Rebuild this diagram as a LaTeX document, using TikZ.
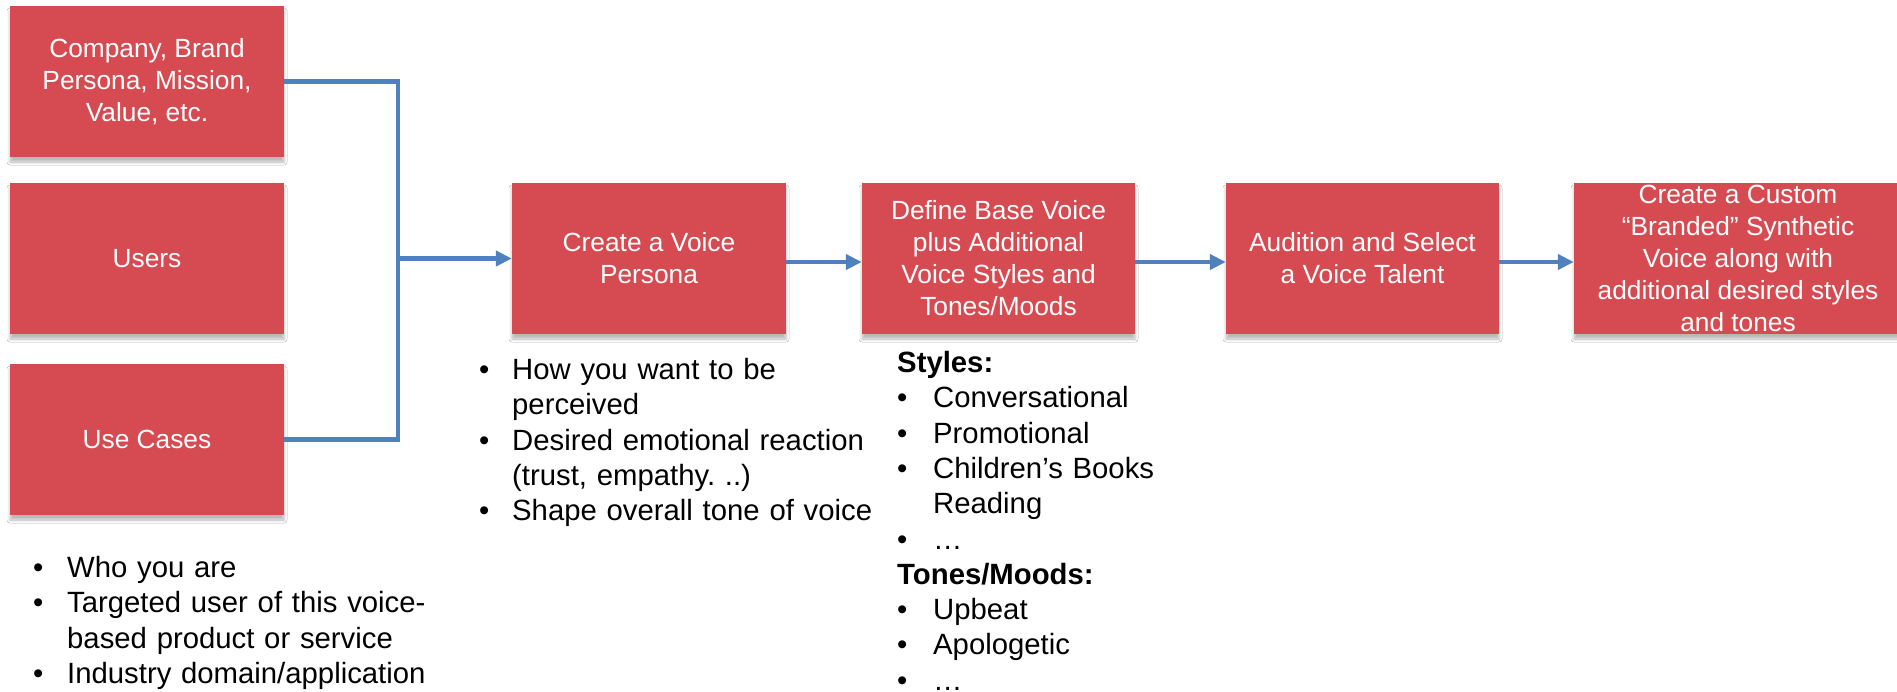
\documentclass[tikz,border=0pt]{standalone}
\usepackage{fontspec}
\setmainfont{Liberation Sans}
\usetikzlibrary{arrows.meta,shadows.blur}
\definecolor{boxred}{RGB}{214,75,81}
\definecolor{linkblue}{RGB}{79,129,189}
\newcommand\bitem[2][33pt]{\hangindent=#1\hangafter=1\noindent\makebox[#1][l]{\textbullet}#2\par}
\newcommand\bhead[1]{\noindent\textbf{#1}\par}
\frenchspacing
\begin{document}
\begin{tikzpicture}[x=1pt,y=-1pt,
  box/.style={rectangle, fill=boxred, text=white, align=center, inner sep=0pt,
    minimum width=274pt, minimum height=151pt,
    font=\fontsize{26.3}{32}\selectfont,
    blur shadow={shadow xshift=0pt,shadow yshift=-5pt,shadow blur radius=3pt,shadow opacity=28}},
  boxtext/.style={text=white, align=center, inner sep=0pt, font=\fontsize{26.3}{32}\selectfont},
  conn/.style={draw=linkblue, line width=4.5pt},
  arr/.style={conn, -{Triangle[length=16pt,width=15pt]}},
  notes/.style={anchor=base west, inner sep=0pt, text width=420pt, align=left,
    font=\fontsize{29.3}{35.3}\selectfont}]
\useasboundingbox (0,0) rectangle (1897,691);
\fill[white] (0,0) rectangle (1897,691);
\clip (0,0) rectangle (1897,691);

% boxes
\node[box] (b1) at (147,81.5) {Company, Brand\\Persona, Mission,\\Value, etc.};
\node[box] (b2) at (147,258.5) {Users};
\node[box] (b3) at (147,439.5) {Use Cases};
\node[box] (b4) at (649,258.5) {Create a Voice\\Persona};
\node[box, minimum width=273pt] (b5) at (998.5,258.5) {Define Base Voice\\plus Additional\\Voice Styles and\\Tones/Moods};
\node[box, minimum width=273pt] (b6) at (1362.5,258.5) {Audition and Select\\a Voice Talent};
\node[box, minimum width=328pt] (b7) at (1738,258.5) {};
\node[boxtext] (b7t) at (b7.center) {Create a Custom\\“Branded” Synthetic\\Voice along with\\additional desired styles\\and tones};

% connectors
\coordinate (j) at (398,258.5);
\draw[conn] (b1.east) -| (j) |- (b3.east);
\draw[arr] (j) -- (b4.west);
\draw[arr] ([yshift=-3.5pt]b4.east) -- ([yshift=-3.5pt]b5.west);
\draw[arr] ([yshift=-3.5pt]b5.east) -- ([yshift=-3.5pt]b6.west);
\draw[arr] ([yshift=-3.5pt]b6.east) -- ([yshift=-3.5pt]b7.west);

% notes
\node[notes] (n1) at (33,577.5) {\bitem[34pt]{Who you are}\bitem[34pt]{Targeted user of this voice-\newline based product or service}\bitem[34pt]{Industry domain/application}};
\node[notes] (n2) at (479,379.5) {\bitem[33pt]{How you want to be\newline perceived}\bitem[33pt]{Desired emotional reaction\newline (trust, empathy. ..)}\bitem[33pt]{Shape overall tone of voice}};
\node[notes] (n3) at (897,372.5) {\bhead{Styles:}\bitem[36pt]{Conversational}\bitem[36pt]{Promotional}\bitem[36pt]{Children’s Books\newline Reading}\bitem[36pt]{…}\bhead{Tones/Moods:}\bitem[36pt]{Upbeat}\bitem[36pt]{Apologetic}\bitem[36pt]{…}};
\end{tikzpicture}
\end{document}
